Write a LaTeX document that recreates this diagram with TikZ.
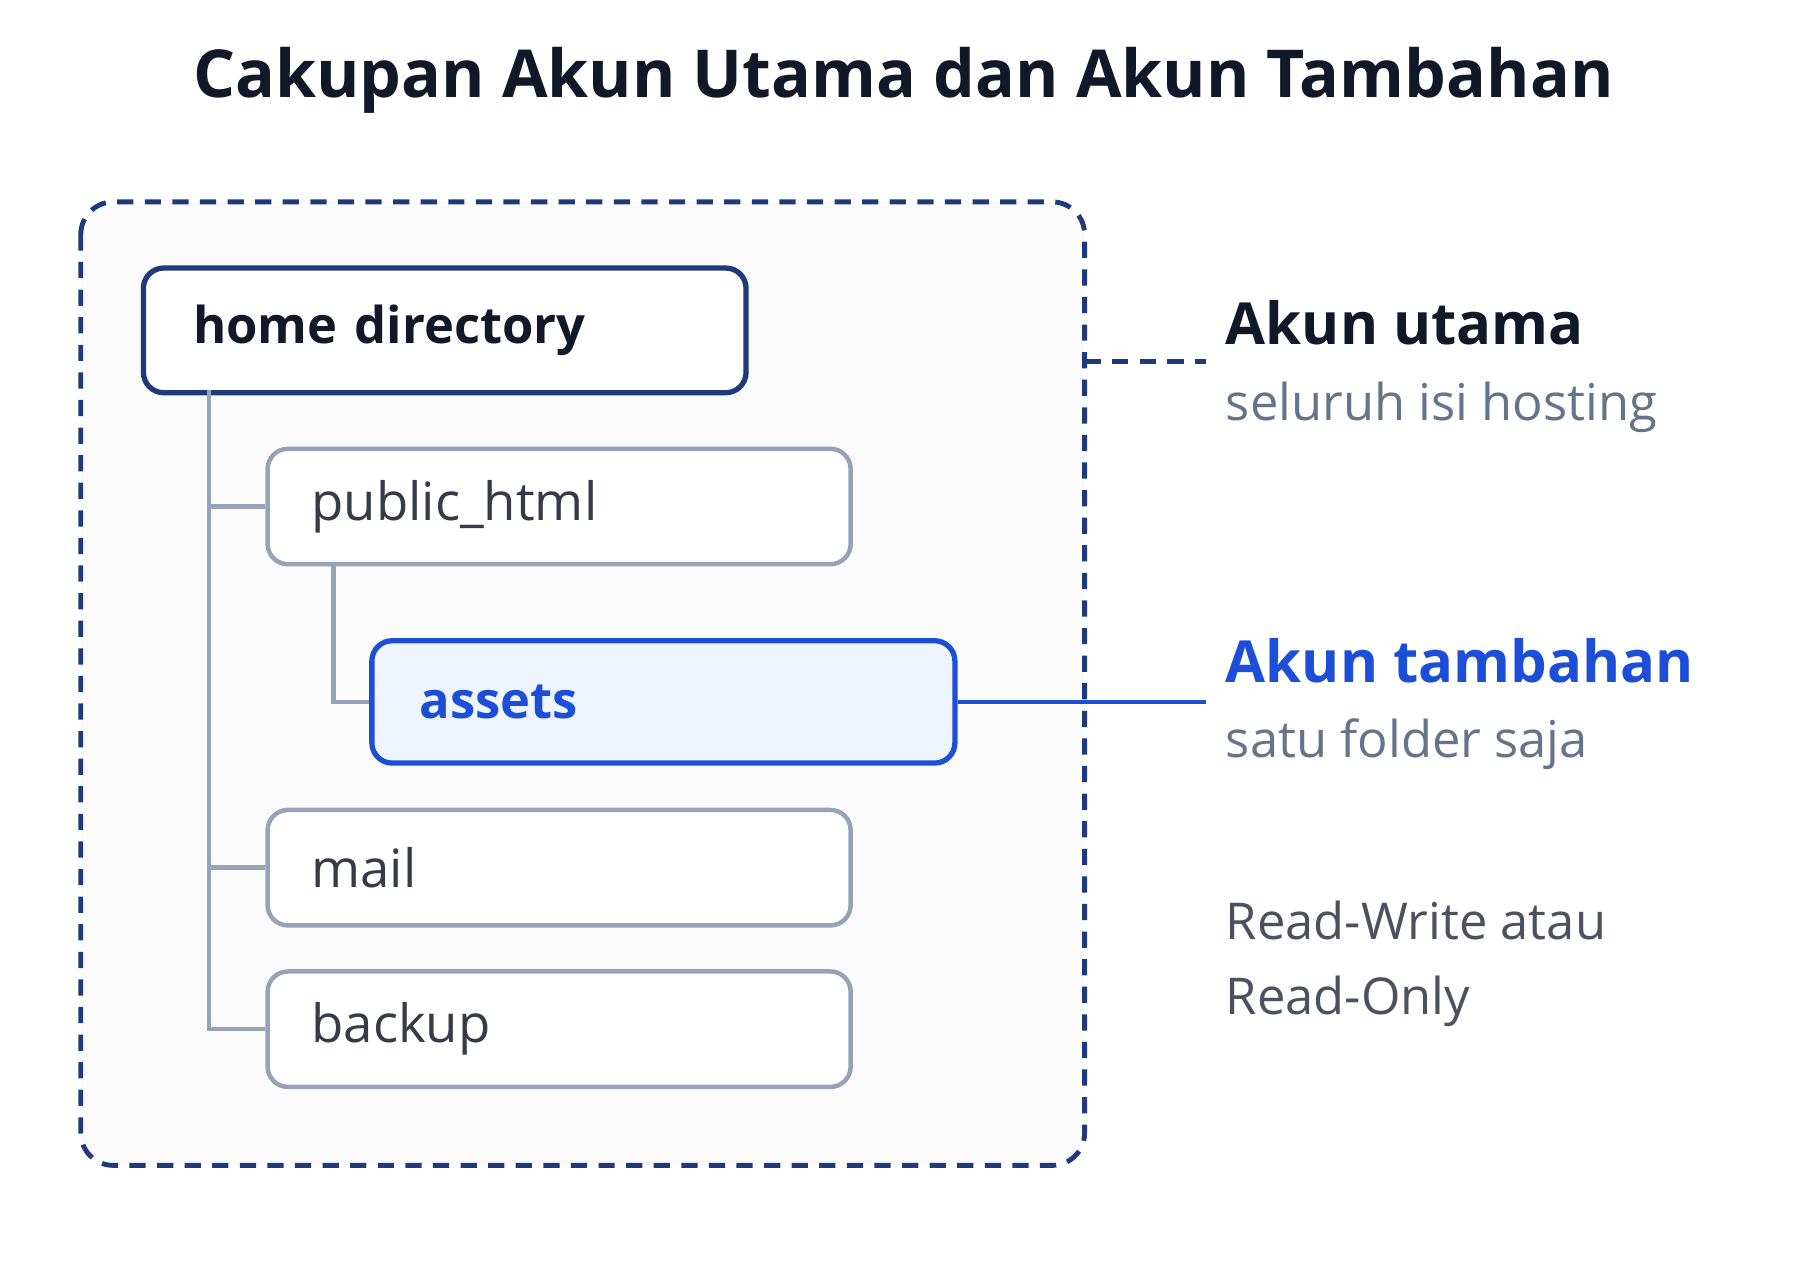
\documentclass[tikz,border=0pt]{standalone}
\usepackage{fontspec}
\setmainfont{Open Sans}
\usetikzlibrary{positioning,calc}
\definecolor{navy}{HTML}{1E3A7B}
\definecolor{ink}{HTML}{111827}
\definecolor{slate}{HTML}{94A3B8}
\definecolor{muted}{HTML}{64748B}
\definecolor{blu}{HTML}{1D4ED8}
\definecolor{lightblu}{HTML}{EEF5FE}

\begin{document}
\begin{tikzpicture}[x=0.01cm, y=-0.01cm,
    folder/.style={draw=slate, line width=1.1pt, rounded corners=5pt, fill=white, anchor=north west,
      minimum width=5.05cm, minimum height=1cm, text width=4.29cm, align=left,
      font=\fontsize{13}{16}\selectfont, text=ink!85},
    branch/.style={draw=slate, line width=1.1pt},
    side/.style={anchor=west, font=\fontsize{12.5}{15}\selectfont, text=muted}
]
\useasboundingbox (0,0) rectangle (1560,1109);

% title
\node[font=\bfseries\fontsize{16.3}{20}\selectfont, text=ink] (title) at (783,70) {Cakupan Akun Utama dan Akun Tambahan};

% scope of main account
\draw[navy, line width=1.2pt, dash pattern=on 4pt off 2.8pt, rounded corners=8pt, fill=gray!4]
  (70,175) rectangle (940,1010);
\coordinate (scope) at (940,313);

% folders
\node[folder, draw=navy, line width=1.3pt, minimum width=5.22cm, minimum height=1.08cm, text width=4.36cm,
  font=\bfseries\fontsize{12.5}{15}\selectfont, text=ink] (home) at (122,230) {home directory};
\node[folder] (public) at (230,387) {public\_html};
\node[folder, draw=blu, line width=1.3pt, fill=lightblu, text=blu, minimum height=1.06cm, text width=4.22cm,
  font=\bfseries\fontsize{12.5}{15}\selectfont] (assets) at (320,553) {assets};
\node[folder] (mail) at (230,700) {mail};
\node[folder] (backup) at (230,840) {backup};

% tree lines
\draw[branch] (181,338) |- (backup.west);
\draw[branch] (181,0 |- public.west) -- (public.west);
\draw[branch] (181,0 |- mail.west) -- (mail.west);
\draw[branch] (289,487) |- (assets.west);

% labels on the right
\node[anchor=west, font=\bfseries\fontsize{14.3}{17}\selectfont, text=ink] (utama) at (1050,280) {Akun utama};
\node[side] (utamasub) at (1050,353) {seluruh isi hosting};
\node[anchor=west, font=\bfseries\fontsize{14.3}{17}\selectfont, text=blu] (tambahan) at (1050,573) {Akun tambahan};
\node[side] (tambahansub) at (1050,645) {satu folder saja};
\node[side, text=ink!75, align=left, font=\fontsize{12.5}{18.5}\selectfont] (mode) at (1050,835) {Read-Write atau\\Read-Only};

% connectors
\coordinate (utamaend) at (1045,313);
\coordinate (tambahanend) at (1045,605);
\draw[navy, line width=1.2pt, dash pattern=on 4pt off 2.8pt] (scope) -- (utamaend);
\draw[blu, line width=1.1pt] (assets.east) -- (assets.east -| tambahanend);

\end{tikzpicture}
\end{document}
